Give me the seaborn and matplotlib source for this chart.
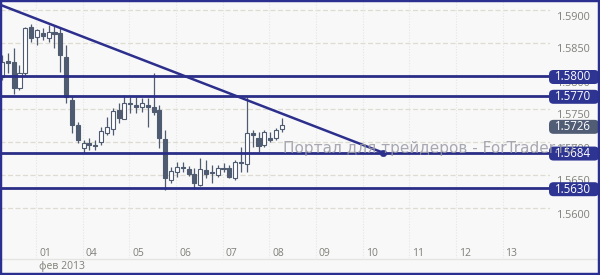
import numpy as np
import pandas as pd
import matplotlib
matplotlib.use("Agg")
import matplotlib.pyplot as plt
import seaborn as sns
from matplotlib.patches import FancyBboxPatch, Rectangle
from matplotlib.lines import Line2D
import matplotlib.transforms as mtransforms

# ---------------- data (3-hour candles, GBP/USD, Feb 2013) ----------------
opens  = [1.5798, 1.5823, 1.5821, 1.5782, 1.5805, 1.5874, 1.5859, 1.5865, 1.5858, 1.5867,
          1.5865, 1.5829, 1.5764, 1.5726, 1.5691, 1.5698, 1.5695, 1.5700, 1.5714, 1.5720,
          1.5748, 1.5735, 1.5759, 1.5756, 1.5753, 1.5756, 1.5753, 1.5748, 1.5705, 1.5642,
          1.5655, 1.5662, 1.5659, 1.5652, 1.5635, 1.5658, 1.5655, 1.5650, 1.5661, 1.5661,
          1.5645, 1.5670, 1.5667, 1.5714, 1.5706, 1.5695, 1.5706, 1.5706, 1.5720]
highs  = [1.5832, 1.5835, 1.5842, 1.5817, 1.5874, 1.5879, 1.5871, 1.5873, 1.5877, 1.5876,
          1.5873, 1.5847, 1.5770, 1.5730, 1.5703, 1.5706, 1.5703, 1.5723, 1.5738, 1.5752,
          1.5759, 1.5771, 1.5768, 1.5768, 1.5767, 1.5767, 1.5805, 1.5756, 1.5718, 1.5662,
          1.5670, 1.5670, 1.5664, 1.5661, 1.5676, 1.5673, 1.5665, 1.5665, 1.5668, 1.5665,
          1.5673, 1.5692, 1.5768, 1.5718, 1.5715, 1.5718, 1.5715, 1.5721, 1.5736]
lows   = [1.5794, 1.5805, 1.5773, 1.5779, 1.5802, 1.5852, 1.5847, 1.5855, 1.5852, 1.5842,
          1.5806, 1.5759, 1.5714, 1.5698, 1.5683, 1.5688, 1.5688, 1.5695, 1.5711, 1.5711,
          1.5729, 1.5735, 1.5744, 1.5744, 1.5745, 1.5723, 1.5741, 1.5691, 1.5627, 1.5638,
          1.5647, 1.5655, 1.5648, 1.5629, 1.5633, 1.5645, 1.5638, 1.5647, 1.5655, 1.5645,
          1.5642, 1.5655, 1.5655, 1.5692, 1.5685, 1.5692, 1.5700, 1.5703, 1.5715]
closes = [1.5821, 1.5820, 1.5782, 1.5805, 1.5873, 1.5858, 1.5870, 1.5861, 1.5867, 1.5864,
          1.5832, 1.5768, 1.5726, 1.5703, 1.5698, 1.5695, 1.5694, 1.5717, 1.5723, 1.5747,
          1.5736, 1.5759, 1.5758, 1.5753, 1.5759, 1.5753, 1.5745, 1.5706, 1.5645, 1.5656,
          1.5662, 1.5661, 1.5652, 1.5638, 1.5659, 1.5652, 1.5653, 1.5661, 1.5659, 1.5647,
          1.5670, 1.5668, 1.5714, 1.5711, 1.5694, 1.5715, 1.5703, 1.5718, 1.5726]

levels = [1.5800, 1.5770, 1.5684, 1.5630]
level_labels = ["1.5800", "1.5770", "1.5684", "1.5630"]
last_price = 1.5726
last_label = "1.5726"

trend_x = [-0.34, 65.3]          # candle-index units
trend_y = [1.5908, 1.5684]

y_ticks = [1.5600, 1.5650, 1.5700, 1.5750, 1.5800, 1.5850, 1.5900]
y_tick_labels = ["1.5600", "1.5650", "1.5700", "1.5750", "1.5800", "1.5850", "1.5900"]

day_pos = [5.85, 13.85, 21.85, 29.85, 37.85, 45.85, 53.85, 61.85, 69.85, 77.85, 85.85]
day_labels = ["01", "04", "05", "06", "07", "08", "09", "10", "11", "12", "13"]
month_label = "фев 2013"

watermark = "Портал для трейдеров - ForTrader.ru"

# ---------------- style ----------------
sns.set_theme(style="white")
plt.rcParams["font.family"] = ["Open Sans", "DejaVu Sans"]

W, H = 600, 275
fig = plt.figure(figsize=(W / 100, H / 100), dpi=100)
bg = "#f8f8f9"
fig.patch.set_facecolor(bg)

ax_left_px, ax_right_px, ax_top_px, ax_bot_px = 0, 550, 0, 258
ax = fig.add_axes([ax_left_px / W, 1 - ax_bot_px / H,
                   (ax_right_px - ax_left_px) / W, (ax_bot_px - ax_top_px) / H])
ax.set_facecolor(bg)
for s in ax.spines.values():
    s.set_visible(False)
ax.set_xticks([])
ax.set_yticks([])

px_per_candle = 5.83
px_per_unit = 6600.0
XLIM = ((ax_left_px - 2) / px_per_candle, (ax_right_px - 2) / px_per_candle)
YLIM = (1.58 - (ax_bot_px - 76) / px_per_unit, 1.58 + (76 - ax_top_px) / px_per_unit)
ax.set_xlim(*XLIM)
ax.set_ylim(*YLIM)

df = pd.DataFrame({"open": opens, "high": highs, "low": lows, "close": closes})
df["x"] = np.arange(len(df))

# grid
for yt in y_ticks:
    ax.axhline(yt, color="#dedbd0", lw=0.9, ls=(0, (4, 2)), zorder=0)
for xp in day_pos:
    ax.axvline(xp, color="#e6e6e6", lw=0.8, ls=(0, (1, 1.5)), zorder=0)

# candles
cdark = "#4f5b70"
ax.vlines(df["x"], df["low"], df["high"], color=cdark, lw=0.9, zorder=2)
body_bottom = np.minimum(df["open"], df["close"])
body_h = np.maximum(np.abs(df["close"] - df["open"]), 0.00014)
face = [("white" if c > o else cdark) for o, c in zip(df["open"], df["close"])]
ax.bar(df["x"], body_h, bottom=body_bottom, width=0.7, color=face,
       edgecolor=cdark, linewidth=0.8, zorder=3)

# levels
navy = "#2a2e86"
for lv in levels:
    ax.axhline(lv, color=navy, lw=2.0, zorder=4)

# trend line
sns.lineplot(x=trend_x, y=trend_y, ax=ax, color="#2c2f8c", lw=1.8, zorder=5)
sns.scatterplot(x=[trend_x[-1]], y=[trend_y[-1]], ax=ax, color="#2c2f8c", s=22,
                edgecolor="#2c2f8c", zorder=6)
ax.set_xlim(*XLIM)
ax.set_ylim(*YLIM)

# right axis gridline labels (offset ~7 px below gridline)
lab_color = "#808078"
off_down = mtransforms.offset_copy(ax.transData, fig=fig, x=0, y=-7, units="dots")
blend_lab = mtransforms.blended_transform_factory(fig.transFigure, off_down)
for yt, lb in zip(y_ticks, y_tick_labels):
    fig.text(557 / W, yt, lb, transform=blend_lab, ha="left", va="center",
             fontsize=7.8, color=lab_color, zorder=1)

# x labels
off_right = mtransforms.offset_copy(ax.transData, fig=fig, x=3, y=0, units="dots")
blend_x = mtransforms.blended_transform_factory(off_right, fig.transFigure)
for xp, lb in zip(day_pos, day_labels):
    ax.text(xp, 1 - 253 / H, lb, transform=blend_x, ha="left", va="center",
            fontsize=7.5, color=lab_color, clip_on=False)
fig.text(39 / W, 1 - 266 / H, month_label, ha="left", va="center",
         fontsize=7.5, color=lab_color)
fig.add_artist(Line2D([2 / W, 598 / W], [1 - 258.5 / H, 1 - 258.5 / H],
                      transform=fig.transFigure, color="#e4e4e0", lw=1))

# value boxes
def value_box(price, text, fc, dy=1):
    ypix = ax.transData.transform((0, price))[1] - dy
    h = 14
    box = FancyBboxPatch((549 / 100, (ypix - h / 2) / 100), 50 / 100, h / 100,
                         boxstyle="round,pad=0,rounding_size=0.045",
                         transform=fig.dpi_scale_trans, fc=fc, ec="none", zorder=10)
    fig.add_artist(box)
    fig.text(573 / 100, ypix / 100, text, transform=fig.dpi_scale_trans,
             ha="center", va="center", fontsize=8.3, color="white", zorder=11)

for lv, lb in zip(levels, level_labels):
    value_box(lv, lb, "#2d3491")
value_box(last_price, last_label, "#505d74", dy=2)

# watermark
fig.text(283 / W, 1 - 148 / H, watermark, ha="left", va="center",
         fontsize=11, color="#9a9aa6", alpha=0.85, zorder=20,
         family=["DejaVu Sans"])

# border
fig.add_artist(Rectangle((0, 0), 1, 1, transform=fig.transFigure, fill=False,
                         ec="#2b2f8f", lw=3.2, zorder=30))

fig.savefig("out.png", dpi=100, facecolor=bg)
